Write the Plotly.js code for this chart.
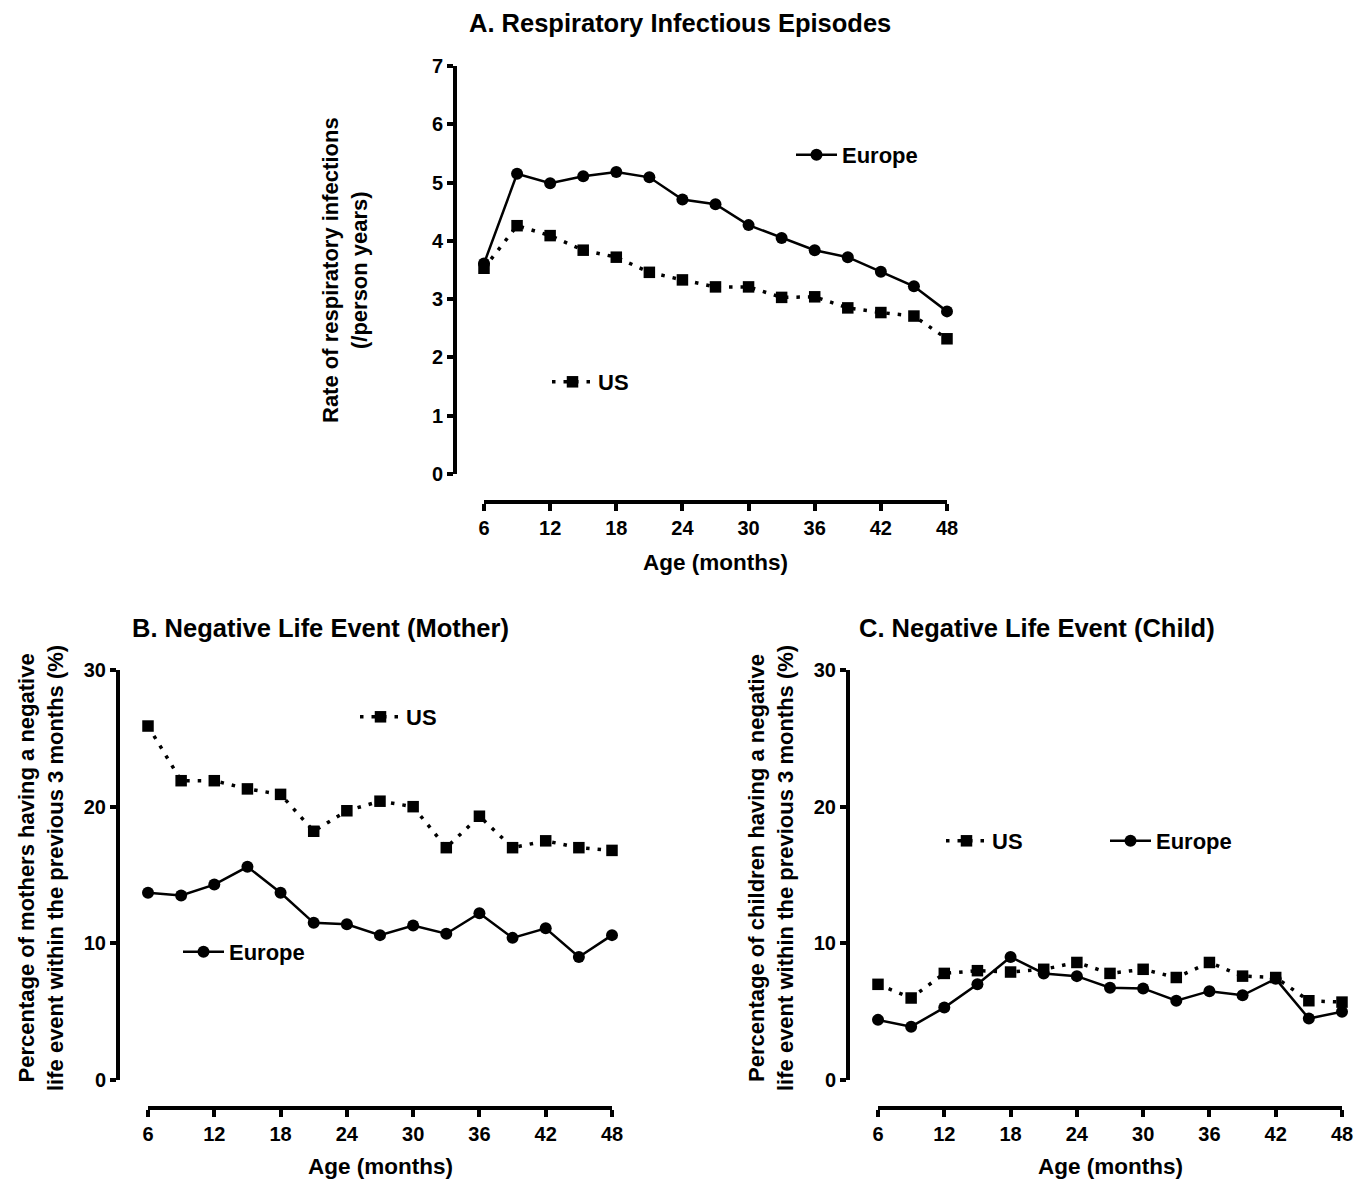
<!DOCTYPE html>
<html>
<head>
<meta charset="utf-8">
<script src="https://cdn.plot.ly/plotly-3.0.1.min.js"></script>
<style>html,body{margin:0;padding:0;background:#fff;}#chart{width:1370px;height:1184px;}</style>
</head>
<body>
<div id="chart"></div>
<script>
// ---------- data ----------
const ages = [6, 9, 12, 15, 18, 21, 24, 27, 30, 33, 36, 39, 42, 45, 48];
const xTicks = [6, 12, 18, 24, 30, 36, 42, 48];

// A. Respiratory infectious episodes (rate per person-year)
const respEurope = [3.61, 5.15, 4.99, 5.11, 5.18, 5.09, 4.71, 4.63, 4.27, 4.05, 3.84, 3.72, 3.47, 3.22, 2.79];
const respUS     = [3.53, 4.26, 4.09, 3.84, 3.72, 3.46, 3.33, 3.21, 3.21, 3.03, 3.04, 2.85, 2.77, 2.71, 2.32];

// B. Negative life event (mother), %
const motherUS     = [25.9, 21.9, 21.9, 21.3, 20.9, 18.2, 19.7, 20.4, 20.0, 17.0, 19.3, 17.0, 17.5, 17.0, 16.8];
const motherEurope = [13.7, 13.5, 14.3, 15.6, 13.7, 11.5, 11.4, 10.6, 11.3, 10.7, 12.2, 10.4, 11.1, 9.0, 10.6];

// C. Negative life event (child), %
const childUS     = [7.0, 6.0, 7.8, 8.0, 7.9, 8.1, 8.6, 7.8, 8.1, 7.5, 8.6, 7.6, 7.5, 5.8, 5.7];
const childEurope = [4.4, 3.9, 5.3, 7.0, 9.0, 7.8, 7.6, 6.75, 6.7, 5.8, 6.5, 6.2, 7.4, 4.5, 5.0];

const seriesNames = ['Europe', 'US'];
const panelTitles = ['A. Respiratory Infectious Episodes', 'B. Negative Life Event (Mother)', 'C. Negative Life Event (Child)'];
const xTitle = 'Age (months)';
const yTitles = [
  'Rate of respiratory infections<br>(/person years)',
  'Percentage of mothers having a negative<br>life event within the previous 3 months (%)',
  'Percentage of children having a negative<br>life event within the previous 3 months (%)'
];

// ---------- layout helpers ----------
const W = 1370, H = 1184;
const px = v => v / W;
const py = v => 1 - v / H;
const FONT = 'Liberation Sans, Arial, Helvetica, sans-serif';

function europeTrace(y, xa, ya, leg) {
  return {
    x: ages, y: y, xaxis: xa, yaxis: ya, name: seriesNames[0], legend: leg,
    type: 'scatter', mode: 'lines+markers', cliponaxis: false,
    line: {color: '#000', width: 2.5},
    marker: {symbol: 'circle', size: 12, color: '#000'}
  };
}
function usTrace(y, xa, ya, leg) {
  return {
    x: ages, y: y, xaxis: xa, yaxis: ya, name: seriesNames[1], legend: leg,
    type: 'scatter', mode: 'lines+markers', cliponaxis: false,
    line: {color: '#000', width: 3.5, dash: '3.5px,8px'},
    marker: {symbol: 'square', size: 11.5, color: '#000'}
  };
}

const data = [
  europeTrace(respEurope, 'x', 'y', 'legend'),
  usTrace(respUS, 'x', 'y', 'legend2'),
  usTrace(motherUS, 'x2', 'y2', 'legend3'),
  europeTrace(motherEurope, 'x2', 'y2', 'legend4'),
  usTrace(childUS, 'x3', 'y3', 'legend5'),
  europeTrace(childEurope, 'x3', 'y3', 'legend6')
];

const tickFont = {family: FONT, size: 20, color: '#000', weight: 'bold'};
function xAxis(x0, x1, yPos) {
  return {
    domain: [px(x0), px(x1)], range: [6, 48], anchor: 'free', position: py(yPos),
    tickvals: xTicks, ticks: 'outside', ticklen: 7, tickwidth: 4, tickcolor: '#000',
    showline: true, linewidth: 4, linecolor: '#000', showgrid: false, zeroline: false,
    tickfont: tickFont, fixedrange: true
  };
}
function yAxis(y0, y1, xPos, range, dtick) {
  return {
    domain: [py(y0), py(y1)], range: range, anchor: 'free', position: px(xPos),
    tick0: 0, dtick: dtick, ticks: 'outside', ticklen: 6, tickwidth: 4, tickcolor: '#000',
    showline: true, linewidth: 4, linecolor: '#000', showgrid: false, zeroline: false,
    tickfont: tickFont, fixedrange: true
  };
}
function legendAt(xPix, yPix) {
  return {
    x: px(xPix), y: py(yPix), xanchor: 'left', yanchor: 'middle',
    bgcolor: 'rgba(0,0,0,0)', borderwidth: 0, itemwidth: 41,
    font: {family: FONT, size: 22, color: '#000', weight: 'bold'}
  };
}
function ann(text, xPix, yPix, size, angle) {
  return {
    text: text, x: px(xPix), y: py(yPix), xref: 'paper', yref: 'paper',
    xanchor: 'center', yanchor: 'middle', showarrow: false, textangle: angle || 0,
    font: {family: FONT, size: size, color: '#000', weight: 'bold'}
  };
}

const layout = {
  width: W, height: H,
  margin: {l: 0, r: 0, t: 0, b: 0},
  paper_bgcolor: '#fff', plot_bgcolor: 'rgba(0,0,0,0)',
  font: {family: FONT, color: '#000'},
  showlegend: true,
  xaxis:  xAxis(484, 947, 502),
  yaxis:  yAxis(474, 66, 455, [0, 7], 1),
  xaxis2: xAxis(148, 612, 1108),
  yaxis2: yAxis(1080, 670, 118, [0, 30], 10),
  xaxis3: xAxis(878, 1342, 1108),
  yaxis3: yAxis(1080, 670, 848, [0, 30], 10),
  legend:  legendAt(791, 155),
  legend2: legendAt(547, 382),
  legend3: legendAt(355, 717),
  legend4: legendAt(178, 952),
  legend5: legendAt(941, 841),
  legend6: legendAt(1105, 841),
  annotations: [
    ann(panelTitles[0], 680, 23, 25.5),
    ann(panelTitles[1], 320, 628, 25.5),
    ann(panelTitles[2], 1037, 628, 25.5),
    ann(xTitle, 715, 562, 22.5),
    ann(xTitle, 380, 1166, 22.5),
    ann(xTitle, 1110, 1166, 22.5),
    ann(yTitles[0], 345, 270, 22, -90),
    ann(yTitles[1], 41, 868, 22, -90),
    ann(yTitles[2], 771, 868, 22, -90)
  ]
};

Plotly.newPlot('chart', data, layout, {displayModeBar: false, staticPlot: true});
</script>
</body>
</html>
